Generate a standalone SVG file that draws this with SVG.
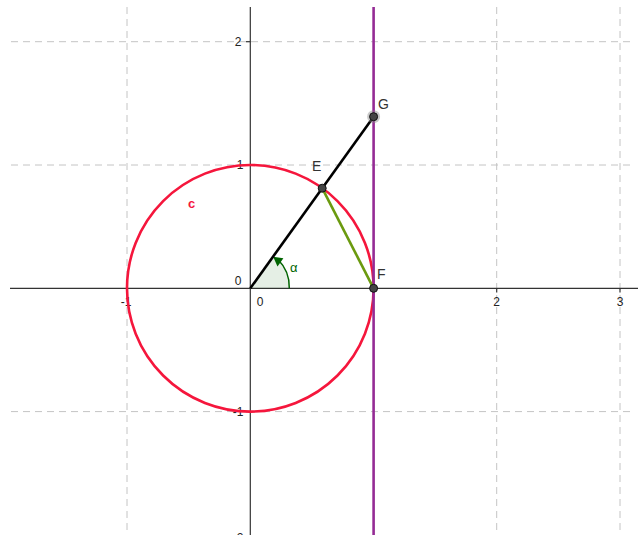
<svg xmlns="http://www.w3.org/2000/svg" width="638" height="535" viewBox="0 0 638 535">
<style>
.grid{stroke:#c4c4c4;stroke-width:1;stroke-dasharray:7,5;fill:none}
.axis{stroke:#333;stroke-width:1.2;fill:none}
.tick{stroke:#333;stroke-width:1.2}
.num{font-family:"Liberation Sans",Arial,sans-serif;font-size:12px;fill:#222;text-anchor:middle}
.lbl{font-family:"Liberation Sans",Arial,sans-serif;font-size:14px;fill:#333}
.pt{fill:#444;stroke:#111;stroke-width:1}
</style>
<rect width="638" height="535" fill="#fff"/>
<g id="grid">
<line class="grid" x1="127" y1="7" x2="127" y2="535"/>
<line class="grid" x1="496.7" y1="7" x2="496.7" y2="535"/>
<line class="grid" x1="620" y1="7" x2="620" y2="535"/>
<line class="grid" x1="11" y1="41.7" x2="635" y2="41.7"/>
<line class="grid" x1="11" y1="165" x2="635" y2="165"/>
<line class="grid" x1="11" y1="411.6" x2="635" y2="411.6"/>
</g>
<g id="axes">
<line class="axis" x1="10" y1="288.3" x2="638" y2="288.3"/>
<line class="axis" x1="250.3" y1="7" x2="250.3" y2="535"/>
<line class="tick" x1="246" y1="41.7" x2="250.3" y2="41.7"/>
<line class="tick" x1="246" y1="165" x2="250.3" y2="165"/>
<line class="tick" x1="246" y1="411.6" x2="250.3" y2="411.6"/>
<line class="tick" x1="127" y1="288.3" x2="127" y2="292.5"/>
<line class="tick" x1="496.7" y1="288.3" x2="496.7" y2="292.5"/>
<line class="tick" x1="620" y1="288.3" x2="620" y2="292.5"/>
<text class="num" x="238" y="46">2</text>
<text class="num" x="240" y="169">1</text>
<text class="num" x="238" y="285">0</text>
<text class="num" x="238" y="416">-1</text>
<text class="num" x="238" y="542">-2</text>
<text class="num" x="260" y="306">0</text>
<text class="num" x="126" y="306">-1</text>
<text class="num" x="496.7" y="306">2</text>
<text class="num" x="620" y="306">3</text>
</g>
<g id="angle">
<path d="M250.3,288.3 L289.3,288.3 A39,39 0 0 0 273.06,256.63 Z" fill="#006400" fill-opacity="0.1" stroke="none"/>
<path d="M289.3,288.3 A39,39 0 0 0 278,259.5" fill="none" stroke="#006400" stroke-width="1.5"/>
<polygon points="273.2,256.8 283.4,258.2 277.5,266.4" fill="#006400"/>
<text x="290" y="272" font-family="'Liberation Sans',Arial,sans-serif" font-size="13" fill="#006400">α</text>
</g>
<g id="circle-c">
<circle cx="250.3" cy="288.3" r="123.3" fill="none" stroke="#f5163c" stroke-width="2.6"/>
<text x="188" y="208" font-family="'Liberation Sans',Arial,sans-serif" font-size="13" font-weight="bold" fill="#f5163c">c</text>
</g>
<g id="connectors">
<line x1="373.6" y1="7" x2="373.6" y2="535" stroke="#952b95" stroke-width="2.6"/>
<line x1="250.3" y1="288.3" x2="373.6" y2="116.7" stroke="#000" stroke-width="2.6"/>
<line x1="322.2" y1="188.2" x2="373.6" y2="288.3" stroke="#6b9a0f" stroke-width="2.6"/>
</g>
<g id="point-G">
<circle cx="373.6" cy="116.7" r="6.5" fill="#888" fill-opacity="0.45"/>
<circle class="pt" cx="373.6" cy="116.7" r="4"/>
<text class="lbl" x="378" y="109">G</text>
</g>
<g id="point-E">
<circle class="pt" cx="322.2" cy="188.2" r="4"/>
<text class="lbl" x="312" y="171">E</text>
</g>
<g id="point-F">
<circle class="pt" cx="373.6" cy="288.3" r="4"/>
<text class="lbl" x="377" y="279">F</text>
</g>
</svg>
